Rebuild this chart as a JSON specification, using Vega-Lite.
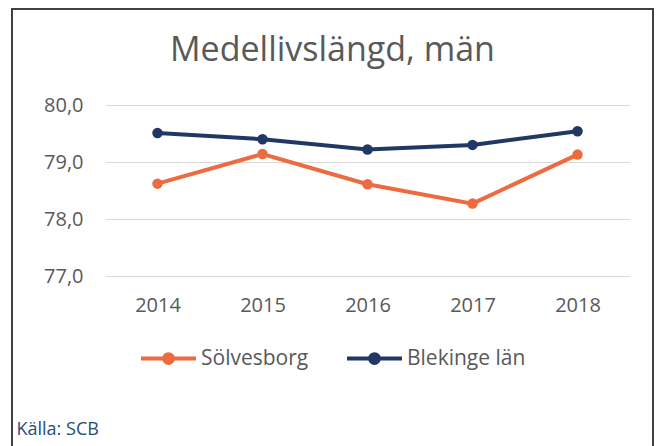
{
  "$schema": "https://vega.github.io/schema/vega-lite/v6.json",
  "autosize": {"type": "none"},
  "width": 641,
  "height": 441,
  "padding": {"left": 12, "top": 9, "right": 5, "bottom": -4},
  "background": "white",
  "title": {
    "text": "Medellivslängd, män",
    "font": "Open Sans",
    "fontSize": 34,
    "fontWeight": "normal",
    "color": "#595959",
    "anchor": "middle",
    "frame": "group",
    "baseline": "alphabetic",
    "offset": -86
  },
  "config": {
    "font": "Open Sans",
    "view": {"stroke": "#404040", "strokeWidth": 2}
  },
  "data": {
    "values": [
      {"year": "2014", "region": "Sölvesborg", "value": 78.62},
      {"year": "2015", "region": "Sölvesborg", "value": 79.14},
      {"year": "2016", "region": "Sölvesborg", "value": 78.61},
      {"year": "2017", "region": "Sölvesborg", "value": 78.27},
      {"year": "2018", "region": "Sölvesborg", "value": 79.13},
      {"year": "2014", "region": "Blekinge län", "value": 79.51},
      {"year": "2015", "region": "Blekinge län", "value": 79.40},
      {"year": "2016", "region": "Blekinge län", "value": 79.22},
      {"year": "2017", "region": "Blekinge län", "value": 79.30},
      {"year": "2018", "region": "Blekinge län", "value": 79.54}
    ]
  },
  "encoding": {
    "x": {
      "field": "year",
      "type": "ordinal",
      "scale": {"type": "point", "range": [93, 618], "padding": 0.5},
      "axis": {
        "orient": "bottom",
        "offset": -160,
        "labelAngle": 0,
        "labelFontSize": 20,
        "labelColor": "#595959",
        "labelPadding": 5,
        "ticks": false,
        "domain": false,
        "grid": false,
        "title": "Källa: SCB",
        "titleFontSize": 18,
        "titleFontWeight": "normal",
        "titleColor": "#1F4E79",
        "titleAnchor": "start",
        "titleAlign": "left",
        "titleBaseline": "alphabetic",
        "titleX": 4,
        "titleY": 144
      }
    },
    "y": {
      "field": "value",
      "type": "quantitative",
      "scale": {"domain": [77, 80], "range": [267, 96], "zero": false, "nice": false},
      "axis": {
        "orient": "left",
        "offset": -71,
        "values": [77, 78, 79, 80],
        "labelExpr": "replace(format(datum.value, '.1f'), '.', ',')",
        "labelFontSize": 20,
        "labelColor": "#595959",
        "labelPadding": 0,
        "ticks": false,
        "domain": false,
        "grid": true,
        "gridColor": "#D9D9D9",
        "gridWidth": 1.2,
        "title": null
      }
    },
    "color": {
      "field": "region",
      "type": "nominal",
      "scale": {"domain": ["Sölvesborg", "Blekinge län"], "range": ["#ED6B40", "#203864"]},
      "legend": {
        "title": null,
        "orient": "none",
        "direction": "horizontal",
        "legendX": 127,
        "legendY": 320,
        "symbolType": "M-1,0L1,0M-0.16,0A0.16,0.16 0 1 1 0.16,0A0.16,0.16 0 1 1 -0.16,0Z",
        "symbolSize": 3025,
        "symbolStrokeWidth": 4,
        "labelFontSize": 21,
        "labelColor": "#595959",
        "labelOffset": 3,
        "columnPadding": 30,
        "encode": {
          "symbols": {
            "update": {
              "fill": {"scale": "color", "field": "value"},
              "stroke": {"scale": "color", "field": "value"}
            }
          }
        }
      }
    }
  },
  "layer": [
    {"mark": {"type": "line", "strokeWidth": 4}},
    {"mark": {"type": "point", "filled": true, "size": 110, "opacity": 1}}
  ]
}
